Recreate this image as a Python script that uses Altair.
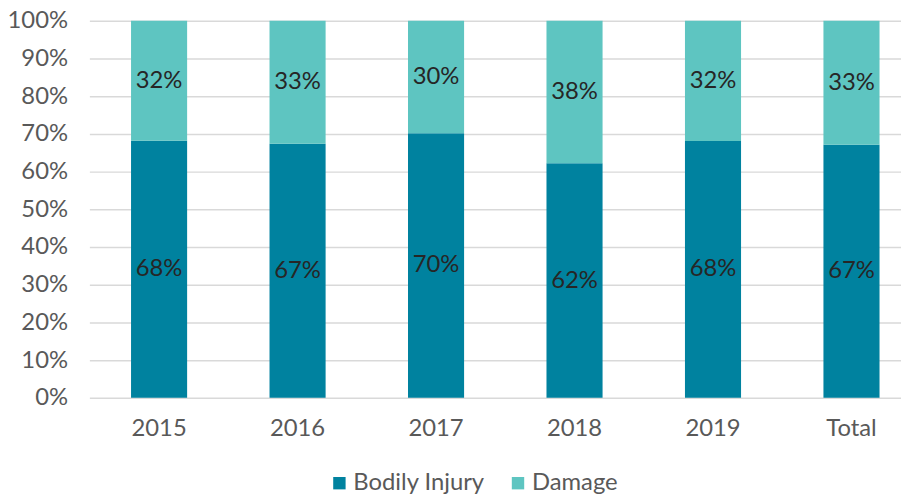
import altair as alt
import pandas as pd

categories = ["2015", "2016", "2017", "2018", "2019", "Total"]
bodily_injury = [0.682, 0.674, 0.702, 0.622, 0.681, 0.671]
damage = [0.318, 0.326, 0.298, 0.378, 0.319, 0.329]
bodily_labels = ["68%", "67%", "70%", "62%", "68%", "67%"]
damage_labels = ["32%", "33%", "30%", "38%", "32%", "33%"]
series_names = ["Bodily Injury", "Damage"]
colors = ["#00829f", "#5ec5c1"]
y_ticks = [0, 0.1, 0.2, 0.3, 0.4, 0.5, 0.6, 0.7, 0.8, 0.9, 1.0]

rows = []
for i, c in enumerate(categories):
    rows.append({"cat": c, "series": series_names[0], "value": bodily_injury[i], "label": bodily_labels[i], "ord": 0})
    rows.append({"cat": c, "series": series_names[1], "value": damage[i], "label": damage_labels[i], "ord": 1})
df = pd.DataFrame(rows)

FONT = "Lato"
FS = 24

x_scale = alt.Scale(paddingInner=0.595, paddingOuter=0.228, align=0.66)
x_axis = alt.Axis(title=None, labelAngle=0, domain=False, ticks=False, grid=False,
                  labelFont=FONT, labelFontSize=FS, labelColor="#595959", labelPadding=19)
y_scale = alt.Scale(domain=[0, 1], nice=False)
y_axis = alt.Axis(title=None, format=".0%", values=y_ticks, labelOverlap=False,
                  domain=False, ticks=False, grid=True, gridColor="#d9d9d9", gridWidth=1.5,
                  labelFont=FONT, labelFontSize=FS, labelColor="#595959", labelPadding=22)

base = alt.Chart(df).transform_stack(
    stack="value", groupby=["cat"], as_=["y0", "y1"], sort=[alt.SortField("ord", "ascending")]
).transform_calculate(mid="(datum.y0 + datum.y1) / 2")

bars = base.mark_bar().encode(
    x=alt.X("cat:N", sort=categories, scale=x_scale, axis=x_axis),
    y=alt.Y("y0:Q", scale=y_scale, axis=y_axis),
    y2="y1:Q",
    color=alt.Color("series:N", sort=series_names,
                    scale=alt.Scale(domain=series_names, range=colors),
                    legend=alt.Legend(title=None, orient="none", direction="horizontal",
                                      legendX=240, legendY=454, symbolType="square", symbolSize=156,
                                      symbolStrokeWidth=0, labelFont=FONT, labelFontSize=FS,
                                      labelColor="#595959", labelOffset=2, columnPadding=21)),
)

texts = base.mark_text(font=FONT, fontSize=FS, color="#262626").encode(
    x=alt.X("cat:N", sort=categories, scale=x_scale, axis=x_axis),
    y=alt.Y("mid:Q", scale=y_scale, axis=y_axis),
    text="label:N",
)

chart = alt.layer(bars, texts).properties(
    width=818, height=380,
    autosize=alt.AutoSizeParams(type="none"),
    padding={"left": 82, "top": 11, "right": 0, "bottom": 97},
).configure_view(stroke=None)

chart.save("out.html", embed_options={"renderer": "svg", "actions": False})
